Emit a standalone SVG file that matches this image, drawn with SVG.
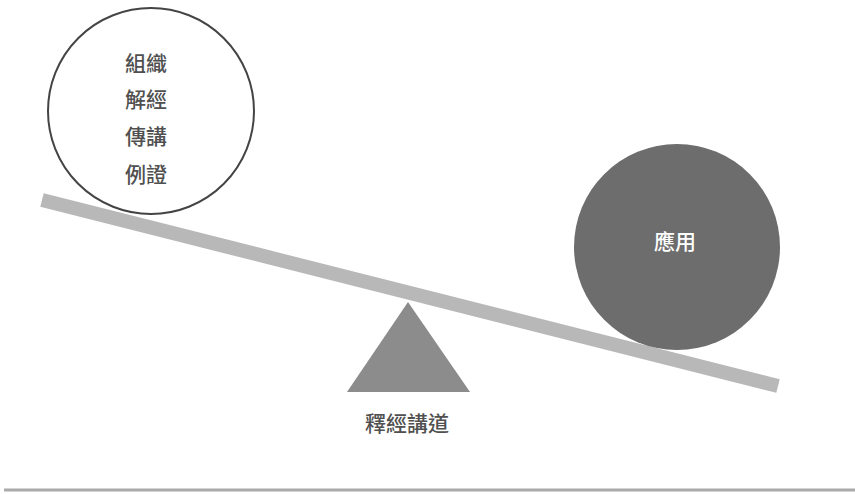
<svg xmlns="http://www.w3.org/2000/svg" width="855" height="494" viewBox="0 0 855 494">
<style>
.lbl{font-family:"Noto Sans CJK TC","Noto Sans CJK SC",sans-serif;font-size:21px;font-weight:500;text-anchor:middle;dominant-baseline:central}
.dark{fill:#505050}
.light{fill:#ffffff}
</style>
<rect width="855" height="494" fill="#ffffff"/>
<g id="beam">
<line x1="42" y1="200" x2="778" y2="386" stroke="#b8b8b8" stroke-width="14"/>
</g>
<g id="left-circle">
<circle cx="151" cy="111" r="103" fill="none" stroke="#444444" stroke-width="2"/>
<text class="lbl dark" x="146" y="62">組織</text>
<text class="lbl dark" x="146" y="98">解經</text>
<text class="lbl dark" x="146" y="135">傳講</text>
<text class="lbl dark" x="146" y="173">例證</text>
</g>
<g id="right-circle">
<circle cx="677" cy="247" r="103" fill="#6d6d6d"/>
<text class="lbl light" x="675" y="240">應用</text>
</g>
<g id="fulcrum">
<polygon points="408,302 347,392 470,392" fill="#8c8c8c"/>
<text class="lbl dark" x="407" y="422">釋經講道</text>
</g>
<g id="base-line">
<line x1="4" y1="490" x2="855" y2="490" stroke="#aaaaaa" stroke-width="3"/>
</g>
</svg>
